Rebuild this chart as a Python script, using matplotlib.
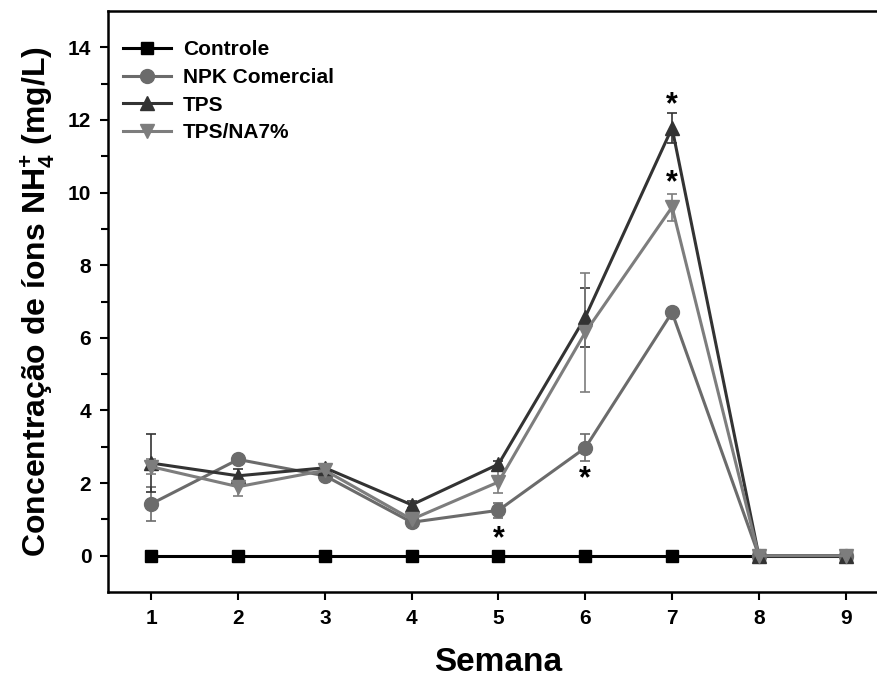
import matplotlib
matplotlib.use("Agg")
import matplotlib.pyplot as plt
from matplotlib.lines import Line2D
import numpy as np

plt.rcParams['font.family'] = ['Liberation Sans', 'DejaVu Sans']
plt.rcParams['font.weight'] = 'bold'
plt.rcParams['mathtext.fontset'] = 'custom'
plt.rcParams['mathtext.rm'] = 'Liberation Sans:bold'
plt.rcParams['mathtext.bf'] = 'Liberation Sans:bold'
plt.rcParams['mathtext.it'] = 'Liberation Sans:bold'

semanas = [1, 2, 3, 4, 5, 6, 7, 8, 9]
controle = [0, 0, 0, 0, 0, 0, 0, 0, 0]
npk = [1.43, 2.65, 2.2, 0.92, 1.25, 2.97, 6.7, 0, 0]
npk_err = [0.47, 0.1, 0.1, 0.08, 0.2, 0.37, 0.08, 0, 0]
tps = [2.55, 2.2, 2.42, 1.4, 2.52, 6.57, 11.78, 0, 0]
tps_err = [0.8, 0.2, 0.1, 0.1, 0.1, 0.81, 0.42, 0, 0]
tpsna = [2.45, 1.9, 2.35, 1.0, 2.03, 6.15, 9.6, 0, 0]
tpsna_err = [0.2, 0.25, 0.1, 0.1, 0.3, 1.63, 0.37, 0, 0]
asteriscos_x = [5, 6, 7, 7]
asteriscos_y = [0.45, 2.1, 12.4, 10.25]

fig = plt.figure(figsize=(8.77, 6.79), dpi=100)
ax = fig.add_axes([108/877, 87/679, 781/877, 581/679])

series = [
    ("Controle", controle, None, '#000000', 's', 9),
    ("NPK Comercial", npk, npk_err, '#6b6b6b', 'o', 10),
    ("TPS", tps, tps_err, '#333333', '^', 10),
    ("TPS/NA7%", tpsna, tpsna_err, '#7d7d7d', 'v', 10),
]
handles = []
for name, vals, err, col, mk, ms in series:
    ax.errorbar(semanas, vals, yerr=err, color=col, ecolor=col, marker=mk,
                markersize=ms, linewidth=2.2, elinewidth=1.2, capsize=3.6,
                capthick=1.2)
    handles.append(Line2D([], [], color=col, marker=mk, markersize=ms,
                          linewidth=2.2, label=name))

for xa, ya in zip(asteriscos_x, asteriscos_y):
    ax.text(xa, ya, '*', ha='center', va='center', fontsize=22, fontweight='bold')

ax.set_xlim(0.5, 9.5)
ax.set_ylim(-1, 15)
ax.set_xticks(semanas)
ax.set_yticks(np.arange(0, 15, 2))
ax.set_yticks(np.arange(1, 15, 2), minor=True)
ax.tick_params(axis='both', which='major', direction='out', length=6, width=1.5,
               labelsize=15, pad=6)
ax.tick_params(axis='y', which='minor', direction='out', length=5, width=1.5)
for lab in ax.get_xticklabels() + ax.get_yticklabels():
    lab.set_fontweight('bold')
for sp in ax.spines.values():
    sp.set_linewidth(1.8)

ax.set_xlabel('Semana', fontsize=24, fontweight='bold', labelpad=14)
ax.set_ylabel(r'Concentração de íons NH$_{4}^{+}$ (mg/L)', fontsize=23,
              fontweight='bold', labelpad=8)

leg = ax.legend(handles=handles, loc='upper left', frameon=False, fontsize=15,
                handlelength=2.3, borderaxespad=0.3, bbox_to_anchor=(0.0, 0.975),
                labelspacing=0.42, handletextpad=0.6)
for t in leg.get_texts():
    t.set_fontweight('bold')

fig.savefig('out.png', dpi=100)
